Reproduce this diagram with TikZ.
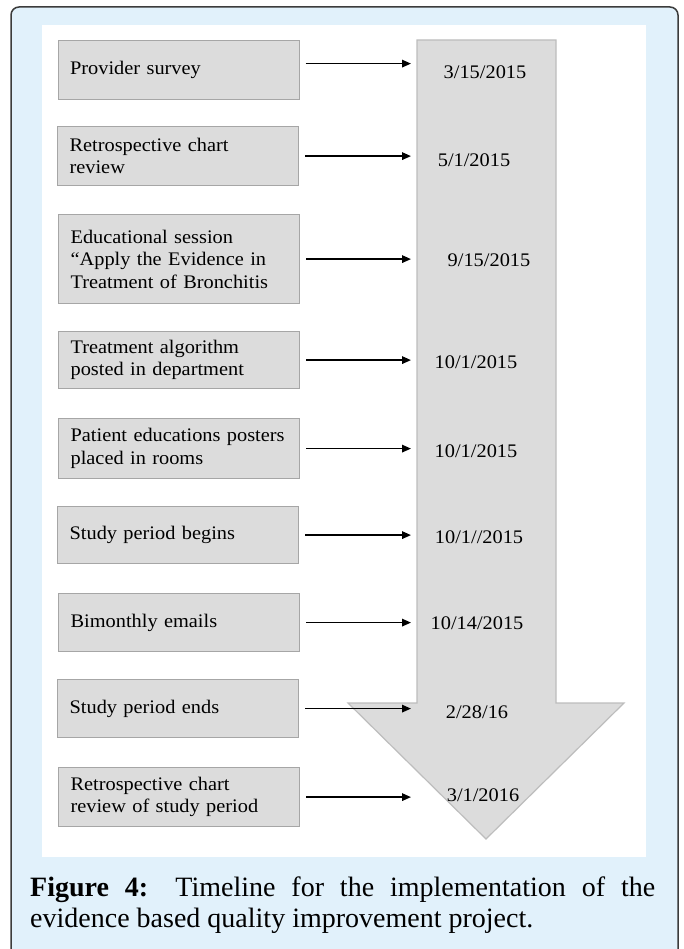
\documentclass[tikz,border=0pt]{standalone}
\usepackage{fontspec}
\setmainfont{Liberation Serif}
\newfontfamily\boxfont[FakeStretch=1.06,WordSpace=0.7]{Liberation Serif}
\usetikzlibrary{arrows.meta,calc}
\definecolor{framebg}{HTML}{E1F1FB}
\definecolor{frameline}{HTML}{3C3C3C}
\definecolor{boxfill}{HTML}{DCDCDC}
\definecolor{boxline}{HTML}{A6A6A6}
\definecolor{shaftline}{HTML}{BDBDBD}
\begin{document}
\begin{tikzpicture}[x=1pt,y=-1pt,
  evt/.style={draw=boxline, fill=boxfill, line width=1.2pt, minimum width=241pt,
    text width=217pt, align=left, inner sep=0pt, anchor=north west,
    font=\boxfont\fontsize{19.2}{22.5}\selectfont},
  datelbl/.style={font=\boxfont\fontsize{19.2}{22}\selectfont, inner sep=0pt},
  conn/.style={line width=1.6pt, -{Triangle[length=9pt,width=7.5pt]}},
  captxt/.style={anchor=base west, inner sep=0pt, font=\fontsize{28}{31}\selectfont}]
\useasboundingbox (0,0) rectangle (684,949);
\clip (0,0) rectangle (684,949);
% frame
\draw[fill=framebg, draw=frameline, line width=1.5pt, rounded corners=8pt] (11,7) rectangle (678,990);
\fill[white] (42,25) rectangle (646,857);
% big arrow
\draw[fill=boxfill, draw=shaftline, line width=1.2pt, line join=miter]
  (417,40) -- (556,40) -- (556,703) -- (624,703) -- (486,839) -- (348,703) -- (417,703) -- cycle;
\coordinate (sl) at (411,0);
% events
\node[evt, minimum height=59pt] (b1) at (57.5,40) {Provider survey};
\node[evt, minimum height=59pt] (b2) at (57,126) {Retrospective chart\\review};
\node[evt, minimum height=89pt] (b3) at (58,214) {Educational session\\“Apply the Evidence in\\Treatment of Bronchitis};
\node[evt, minimum height=57pt] (b4) at (58,331) {Treatment algorithm\\posted in department};
\node[evt, minimum height=60pt] (b5) at (58,418) {Patient educations posters\\placed in rooms};
\node[evt, minimum height=57pt] (b6) at (57,506) {Study period begins};
\node[evt, minimum height=58pt] (b7) at (58,593) {Bimonthly emails};
\node[evt, minimum height=58pt] (b8) at (57,679) {Study period ends};
\node[evt, minimum height=59pt] (b9) at (58,767) {Retrospective chart\\review of study period};
% dates
\node[datelbl] (d1) at (485,72) {3/15/2015};
\node[datelbl] (d2) at (474,160) {5/1/2015};
\node[datelbl] (d3) at (489,260) {9/15/2015};
\node[datelbl] (d4) at (476,362) {10/1/2015};
\node[datelbl] (d5) at (476,451) {10/1/2015};
\node[datelbl] (d6) at (479,537) {10/1//2015};
\node[datelbl] (d7) at (477,623) {10/14/2015};
\node[datelbl] (d8) at (477,712) {2/28/16};
\node[datelbl] (d9) at (483,795) {3/1/2016};
% connectors
\draw[conn] ($(b1.east)+(6,-6.5)$) -- ($(b1.east -| sl)+(0,-6.5)$);
\foreach \b in {b2,b3,b4,b5,b6,b7,b8,b9}{
  \draw[conn] ($(\b.east)+(6,0)$) -- (\b.east -| sl);
}
% caption
\node[captxt] (cap1) at (30,896) {\makebox[625pt][s]{\textbf{Figure 4:} Timeline for the implementation of the}};
\node[captxt] (cap2) at (30,927) {evidence based quality improvement project.};
\end{tikzpicture}
\end{document}
